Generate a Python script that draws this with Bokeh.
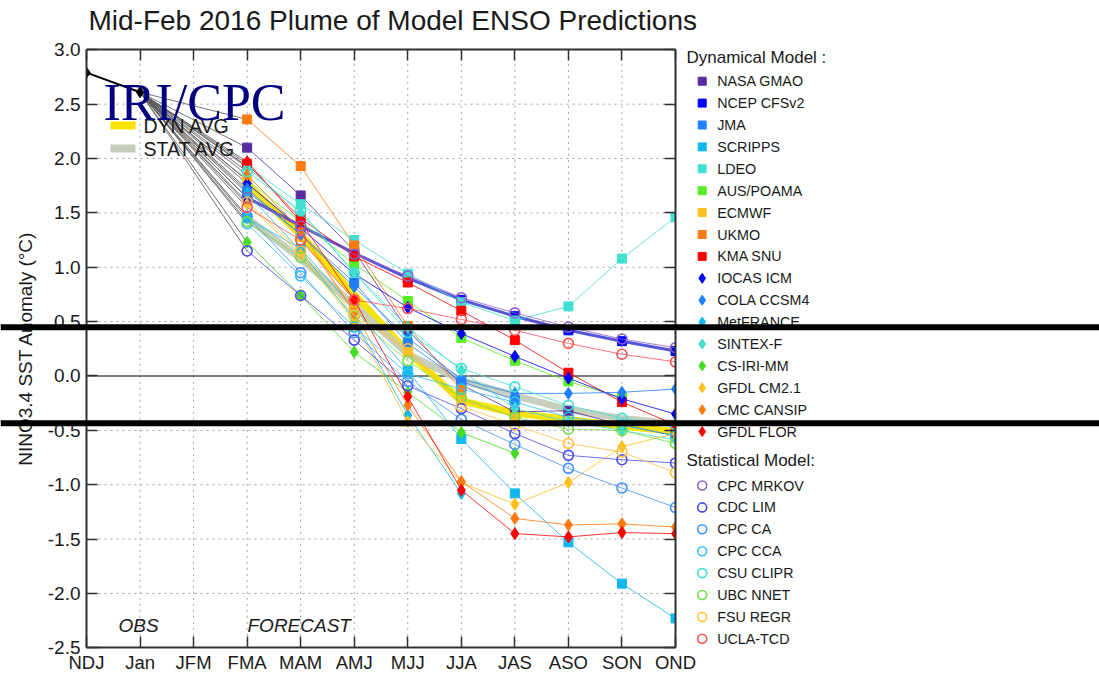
from bokeh.plotting import figure
from bokeh.models import (LinearAxis, FixedTicker, NumeralTickFormatter, Span, Label, Range1d)
from bokeh.embed import file_html
from bokeh.resources import INLINE
from bokeh.core.properties import value

# ---------------- data ----------------
seasons = ["NDJ", "Jan", "JFM", "FMA", "MAM", "AMJ", "MJJ", "JJA", "JAS", "ASO", "SON", "OND"]
y_ticks = [-2.5, -2.0, -1.5, -1.0, -0.5, 0.0, 0.5, 1.0, 1.5, 2.0, 2.5, 3.0]
obs_values = [2.79, 2.61]          # NDJ, Jan
first_forecast = 3                 # FMA index

dyn_names = ["NASA GMAO", "NCEP CFSv2", "JMA", "SCRIPPS", "LDEO", "AUS/POAMA", "ECMWF", "UKMO",
             "KMA SNU", "IOCAS ICM", "COLA CCSM4", "MetFRANCE", "SINTEX-F", "CS-IRI-MM",
             "GFDL CM2.1", "CMC CANSIP", "GFDL FLOR"]
dyn_colors = ["#5a2aa0", "#0000ff", "#2080ff", "#10b8f0", "#40e0d0", "#55ee22", "#ffbf1f", "#ff7a10",
              "#ff0000", "#0000ff", "#2080ff", "#10b8f0", "#40e0d0", "#44dd22", "#ffbf1f", "#ff7a10",
              "#ff0000"]
dyn_markers = ["square"] * 9 + ["diamond"] * 8

nasa_gmao = [2.10, 1.66, 1.15, 0.42, -0.08, -0.33, -0.32, -0.45, -0.55]
ncep_cfsv2 = [1.64, 1.38, 1.13, 0.90, 0.70, 0.55, 0.42, 0.32, 0.23]
jma = [1.70, 1.30, 0.86, 0.30, -0.05, -0.22]
scripps = [1.45, 1.17, 0.62, 0.05, -0.58, -1.08, -1.53, -1.91, -2.23]
ldeo = [1.93, 1.58, 1.25, 0.94, 0.68, 0.51, 0.64, 1.08, 1.46]
aus_poama = [1.80, 1.42, 1.03, 0.69, 0.35, 0.14, -0.05, -0.20]
ecmwf = [1.80, 1.28, 0.61, 0.22, -0.22, -0.38]
ukmo = [2.36, 1.93, 1.20, 0.46, -0.13]
kma_snu = [1.95, 1.45, 1.10, 0.86, 0.60, 0.33, 0.03, -0.24, -0.45]
iocas_icm = [1.77, 1.36, 0.94, 0.63, 0.39, 0.18, -0.02, -0.21, -0.35]
cola_ccsm4 = [1.72, 1.30, 0.82, 0.35, -0.03, -0.16, -0.16, -0.15, -0.12]
metfrance = [1.68, 1.15, 0.52, -0.36, -1.08]
sintex_f = [1.92, 1.50, 0.95, 0.45, 0.05, -0.30, -0.42, -0.50, -0.59]
cs_iri_mm = [1.23, 0.74, 0.22, -0.15, -0.52, -0.71]
gfdl_cm21 = [1.58, 1.12, 0.50, -0.42, -0.98, -1.18, -0.98, -0.65, -0.53]
cmc_cansip = [1.85, 1.34, 0.58, -0.27, -0.97, -1.31, -1.37, -1.36, -1.39]
gfdl_flor = [1.97, 1.42, 0.70, -0.19, -1.05, -1.45, -1.48, -1.44, -1.45]
dyn_values = [nasa_gmao, ncep_cfsv2, jma, scripps, ldeo, aus_poama, ecmwf, ukmo, kma_snu,
              iocas_icm, cola_ccsm4, metfrance, sintex_f, cs_iri_mm, gfdl_cm21, cmc_cansip, gfdl_flor]

stat_names = ["CPC MRKOV", "CDC LIM", "CPC CA", "CPC CCA", "CSU CLIPR", "UBC NNET", "FSU REGR", "UCLA-TCD"]
stat_colors = ["#9060c8", "#4848f0", "#4090ff", "#30c0f0", "#40e0d0", "#70dd40", "#ffc040", "#ff5050"]

cpc_mrkov = [1.64, 1.38, 1.12, 0.92, 0.72, 0.58, 0.45, 0.34, 0.26]
cdc_lim = [1.15, 0.74, 0.33, -0.09, -0.30, -0.53, -0.73, -0.77, -0.80]
cpc_ca = [1.47, 0.95, 0.40, -0.05, -0.40, -0.63, -0.85, -1.03, -1.21]
cpc_cca = [1.40, 0.92, 0.45, 0.02, -0.12, -0.24, -0.38, -0.45, -0.55]
csu_clipr = [1.88, 1.52, 0.95, 0.40, 0.07, -0.10, -0.27, -0.39, -0.45]
ubc_nnet = [1.42, 1.09, 0.55, 0.14, -0.20, -0.38, -0.49, -0.50, -0.62]
fsu_regr = [1.60, 1.15, 0.56, 0.25, -0.28, -0.45, -0.62, -0.70, -0.89]
ucla_tcd = [1.55, 1.25, 0.70, 0.62, 0.52, 0.42, 0.30, 0.20, 0.13]
stat_values = [cpc_mrkov, cdc_lim, cpc_ca, cpc_cca, csu_clipr, ubc_nnet, fsu_regr, ucla_tcd]

dyn_avg = [1.76, 1.30, 0.75, 0.22, -0.23, -0.34, -0.40, -0.46, -0.51]
stat_avg = [1.45, 1.08, 0.65, 0.20, -0.04, -0.18, -0.31, -0.39, -0.44]

threshold_lines = [0.448, -0.435]

FONT = "Liberation Sans"
TXT = "#1a1a1a"

# ---------------- geometry (pixels on the canvas) ----------------
W, H = 1099, 674
BOX_L, BOX_R = 86.0, 675.0        # plot box left / right
BOX_T, BOX_B = 49.3, 647.3        # plot box top / bottom
X0, X1 = 0, len(seasons) - 1
Y0, Y1 = y_ticks[0], y_ticks[-1]
xs_per_px = (X1 - X0) / (BOX_R - BOX_L)
ys_per_px = (Y1 - Y0) / (BOX_B - BOX_T)

def dx(px):   # canvas px -> data x
    return X0 + (px - BOX_L) * xs_per_px

def dy(py):   # canvas px (from top) -> data y
    return Y1 - (py - BOX_T) * ys_per_px

p = figure(width=W, height=H, x_range=Range1d(dx(0), dx(W)), y_range=Range1d(dy(H), dy(0)),
           output_backend="svg", toolbar_location=None, min_border=0)
p.outline_line_color = None
p.xgrid.visible = False
p.ygrid.visible = False
p.background_fill_color = "white"
p.border_fill_color = "white"

xt = FixedTicker(ticks=list(range(len(seasons))))
yt = FixedTicker(ticks=y_ticks)

def style_axis(ax):
    ax.axis_line_color = "#303030"
    ax.axis_line_width = 2
    ax.major_tick_line_color = "#303030"
    ax.major_tick_line_width = 1.5
    ax.major_tick_in = 11
    ax.major_tick_out = 0
    ax.minor_tick_line_color = None
    ax.major_label_text_font = FONT
    ax.major_label_text_color = TXT

xa = p.xaxis[0]
xa.ticker = xt
xa.fixed_location = Y0
xa.bounds = (X0, X1)
xa.major_label_overrides = {i: s for i, s in enumerate(seasons)}
xa.major_label_standoff = 4
style_axis(xa)
xa.major_label_text_font_size = "18.5px"

ya = p.yaxis[0]
ya.ticker = yt
ya.fixed_location = X0
ya.bounds = (Y0, Y1)
ya.formatter = NumeralTickFormatter(format="0.0")
ya.major_label_standoff = 6
ya.axis_label = "NINO3.4 SST Anomaly (°C)"
ya.axis_label_text_font = FONT
ya.axis_label_text_font_size = "19px"
ya.axis_label_text_font_style = "normal"
ya.axis_label_text_color = TXT
ya.axis_label_standoff = 9
style_axis(ya)
ya.major_label_text_font_size = "19px"

top_ax = LinearAxis(ticker=xt, fixed_location=Y1, bounds=(X0, X1),
                    major_label_overrides={i: "" for i in range(len(seasons))})
style_axis(top_ax)
p.add_layout(top_ax, "above")
right_ax = LinearAxis(ticker=yt, fixed_location=X1, bounds=(Y0, Y1),
                      major_label_overrides={t: "" for t in y_ticks})
style_axis(right_ax)
p.add_layout(right_ax, "right")

# dotted grid inside the box
inner_x = list(range(1, len(seasons) - 1))
inner_y = [t for t in y_ticks[1:-1] if t != 0.0]
p.segment(x0=inner_x, y0=[Y0] * len(inner_x), x1=inner_x, y1=[Y1] * len(inner_x),
          line_color="#a898b8", line_dash="2 4", line_width=1)
p.segment(x0=[X0] * len(inner_y), y0=inner_y, x1=[X1] * len(inner_y), y1=inner_y,
          line_color="#a898b8", line_dash="2 4", line_width=1)
p.segment(x0=[X0], y0=[0.0], x1=[X1], y1=[0.0], line_color="#505050", line_width=1.5)

# gray connector lines from the last observation to each first forecast
for vals in dyn_values + stat_values:
    p.line([1, first_forecast], [obs_values[1], vals[0]], line_color="#5a5a5a", line_width=1, line_alpha=0.85)

fx = list(range(first_forecast, first_forecast + 9))
p.line(fx, dyn_avg, line_color="#f6e400", line_width=7, line_alpha=0.95)
p.line(fx, stat_avg, line_color="#c4ccbc", line_width=7, line_alpha=0.95)

for name, col, mk, vals in zip(dyn_names, dyn_colors, dyn_markers, dyn_values):
    xs = fx[:len(vals)]
    lw = 3 if name == "NCEP CFSv2" else 1
    lc = "#2a2ad0" if name == "NCEP CFSv2" else col
    p.line(xs, vals, line_color=lc, line_width=lw, line_alpha=0.8)
    size = 9 if mk == "square" else 12
    p.scatter(xs, vals, marker=mk, size=size, fill_color=col, line_color=col, line_width=1)

for name, col, vals in zip(stat_names, stat_colors, stat_values):
    xs = fx[:len(vals)]
    p.line(xs, vals, line_color=col, line_width=1, line_alpha=0.8)
    p.scatter(xs, vals, marker="circle", size=10, fill_color=None, line_color=col, line_width=1.6)

p.line([0, 1], obs_values, line_color="black", line_width=2)
p.scatter([0, 1], obs_values, marker="diamond", size=11, color="black")

# white masks so that marks are cut at the plot box, as in a clipped plot
p.quad(left=[dx(70), X1], right=[X0, dx(688)], bottom=[Y0, Y0], top=[Y1, Y1],
       fill_color="white", line_color=None)

# ---------------- legends (drawn at fixed pixel positions) ----------------
# in-box legend for the averages
avg_rows = [125.0, 148.0]
p.segment(x0=[dx(110)] * 2, y0=[dy(r) for r in avg_rows], x1=[dx(135)] * 2, y1=[dy(r) for r in avg_rows],
          line_color=["#f6e400", "#c4ccbc"], line_width=8)
p.text(x=[dx(143)] * 2, y=[dy(r) for r in avg_rows], text=["DYN AVG", "STAT AVG"],
       text_font=value(FONT), text_font_size="19.5px", text_color=TXT, text_baseline="middle")

# right-hand model legend
MK_X, TXT_X, HEAD_X = 701.7, 716.7, 686.0
STEP = 21.9
dyn_rows = [80.7 + STEP * i for i in range(len(dyn_names))]
stat_rows = [485.0 + STEP * i for i in range(len(stat_names))]
for name, col, mk, row in zip(dyn_names, dyn_colors, dyn_markers, dyn_rows):
    p.scatter([dx(MK_X)], [dy(row)], marker=mk, size=8 if mk == "square" else 10,
              fill_color=col, line_color=col)
for col, row in zip(stat_colors, stat_rows):
    p.scatter([dx(MK_X)], [dy(row)], marker="circle", size=9, fill_color=None, line_color=col, line_width=1.6)
p.text(x=[dx(TXT_X)] * len(dyn_names), y=[dy(r) for r in dyn_rows], text=dyn_names,
       text_font=value(FONT), text_font_size="14.3px", text_color=TXT, text_baseline="middle")
p.text(x=[dx(TXT_X)] * len(stat_names), y=[dy(r) for r in stat_rows], text=stat_names,
       text_font=value(FONT), text_font_size="14.3px", text_color=TXT, text_baseline="middle")

# ---------------- other texts ----------------
def add_label(px, py, text, size, baseline="middle", font=FONT, color=TXT, style="normal"):
    p.add_layout(Label(x=dx(px), y=dy(py), text=text, text_font=font, text_font_size=size,
                       text_color=color, text_baseline=baseline, text_font_style=style))

add_label(88, 20, "Mid-Feb 2016 Plume of Model ENSO Predictions", "28px")
add_label(103, 101.7, "IRI/CPC", "52px", baseline="alphabetic", font="Liberation Serif", color="#000080")
add_label(118, 625, "OBS", "19px", style="italic")
add_label(247, 625, "FORECAST", "19px", style="italic")
add_label(HEAD_X, 56.7, "Dynamical Model :", "17px")
add_label(HEAD_X, 460.0, "Statistical Model:", "17px")

# thick black horizontal bars across the whole picture
for yv in threshold_lines:
    p.add_layout(Span(location=yv, dimension="width", line_color="black", line_width=6))

open("out.html", "w").write(file_html(p, INLINE))
